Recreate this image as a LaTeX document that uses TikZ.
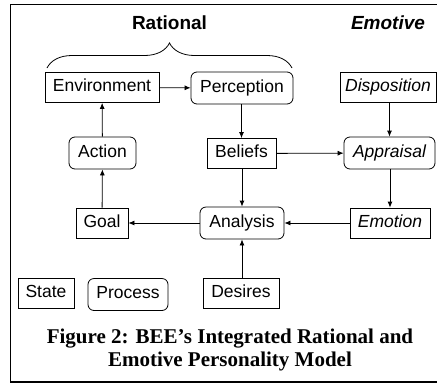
\documentclass[tikz,border=0pt]{standalone}
\usepackage{fontspec}
\setmainfont{Liberation Serif}
\setsansfont{Liberation Sans}
\usetikzlibrary{arrows.meta,decorations.pathreplacing}
\begin{document}
\begin{tikzpicture}[x=1pt,y=-1pt,
  every node/.style={font=\sffamily\fontsize{17.5}{21}\selectfont, inner sep=0pt, line width=0.8pt, minimum height=30pt, text height=12.6pt, text depth=3.7pt},
  statebox/.style={draw},
  procbox/.style={draw, rounded corners=6pt, minimum height=32pt},
  arr/.style={line width=0.8pt, -{Latex[length=6pt,width=5pt]}},
  hdr/.style={font=\sffamily\bfseries\fontsize{19}{23}\selectfont, minimum height=0pt}
]
\useasboundingbox (0,0) rectangle (437,384);
\draw[line width=1.3pt] (437,4.5) -- (10.5,4.5) -- (10.5,382) -- (437,382);

\node[hdr] (rat) at (169.5,25) {Rational};
\node[hdr, font=\sffamily\bfseries\itshape\fontsize{19}{23}\selectfont] (emo) at (388,25) {Emotive};

\node[statebox, minimum width=114pt] (env) at (102,87.5) {Environment};
\node[procbox, minimum width=102pt] (per) at (242,88) {Perception};
\node[statebox, minimum width=96pt] (disp) at (388,87.5) {\itshape Disposition};

\node[procbox, minimum width=67pt] (act) at (102.5,153) {Action};
\node[statebox, minimum width=69pt] (bel) at (241.5,153.5) {Beliefs};
\node[procbox, minimum width=91pt] (app) at (389.5,153) {\itshape Appraisal};

\node[statebox, minimum width=52pt] (goal) at (102,223) {Goal};
\node[procbox, minimum width=84pt] (ana) at (242,223) {Analysis};
\node[statebox, minimum width=80pt] (emot) at (390,223) {\itshape Emotion};

\node[statebox, minimum width=56pt] (state) at (46,293.5) {State};
\node[procbox, minimum width=80pt] (proc) at (128,294.5) {Process};
\node[statebox, minimum width=76pt] (des) at (241,293.5) {Desires};

\coordinate (bl) at (47,68);
\coordinate (br) at (292,68);
\draw[line width=0.8pt, decorate, decoration={brace, amplitude=25pt}] (bl) -- (br);

\draw[arr] (env) -- (per);
\draw[arr] (per.south -| bel.north) -- (bel);
\draw[arr] (bel) -- (app);
\draw[arr] (disp.south -| app.north) -- (app);
\draw[arr] (app.south -| emot.north) -- (emot);
\draw[arr] (emot) -- (ana);
\draw[arr] (bel.south -| ana.north) -- (ana);
\draw[arr] (des.north -| ana.south) -- (ana);
\draw[arr] (ana) -- (goal);
\draw[arr] (goal) -- (act);
\draw[arr] (act) -- (env);

\node[font=\rmfamily\bfseries\fontsize{21}{23.5}\selectfont, align=center, minimum height=0pt, text height=, text depth=] (cap) at (230,350) {Figure 2: BEE’s Integrated Rational and\\Emotive Personality Model};
\end{tikzpicture}
\end{document}
